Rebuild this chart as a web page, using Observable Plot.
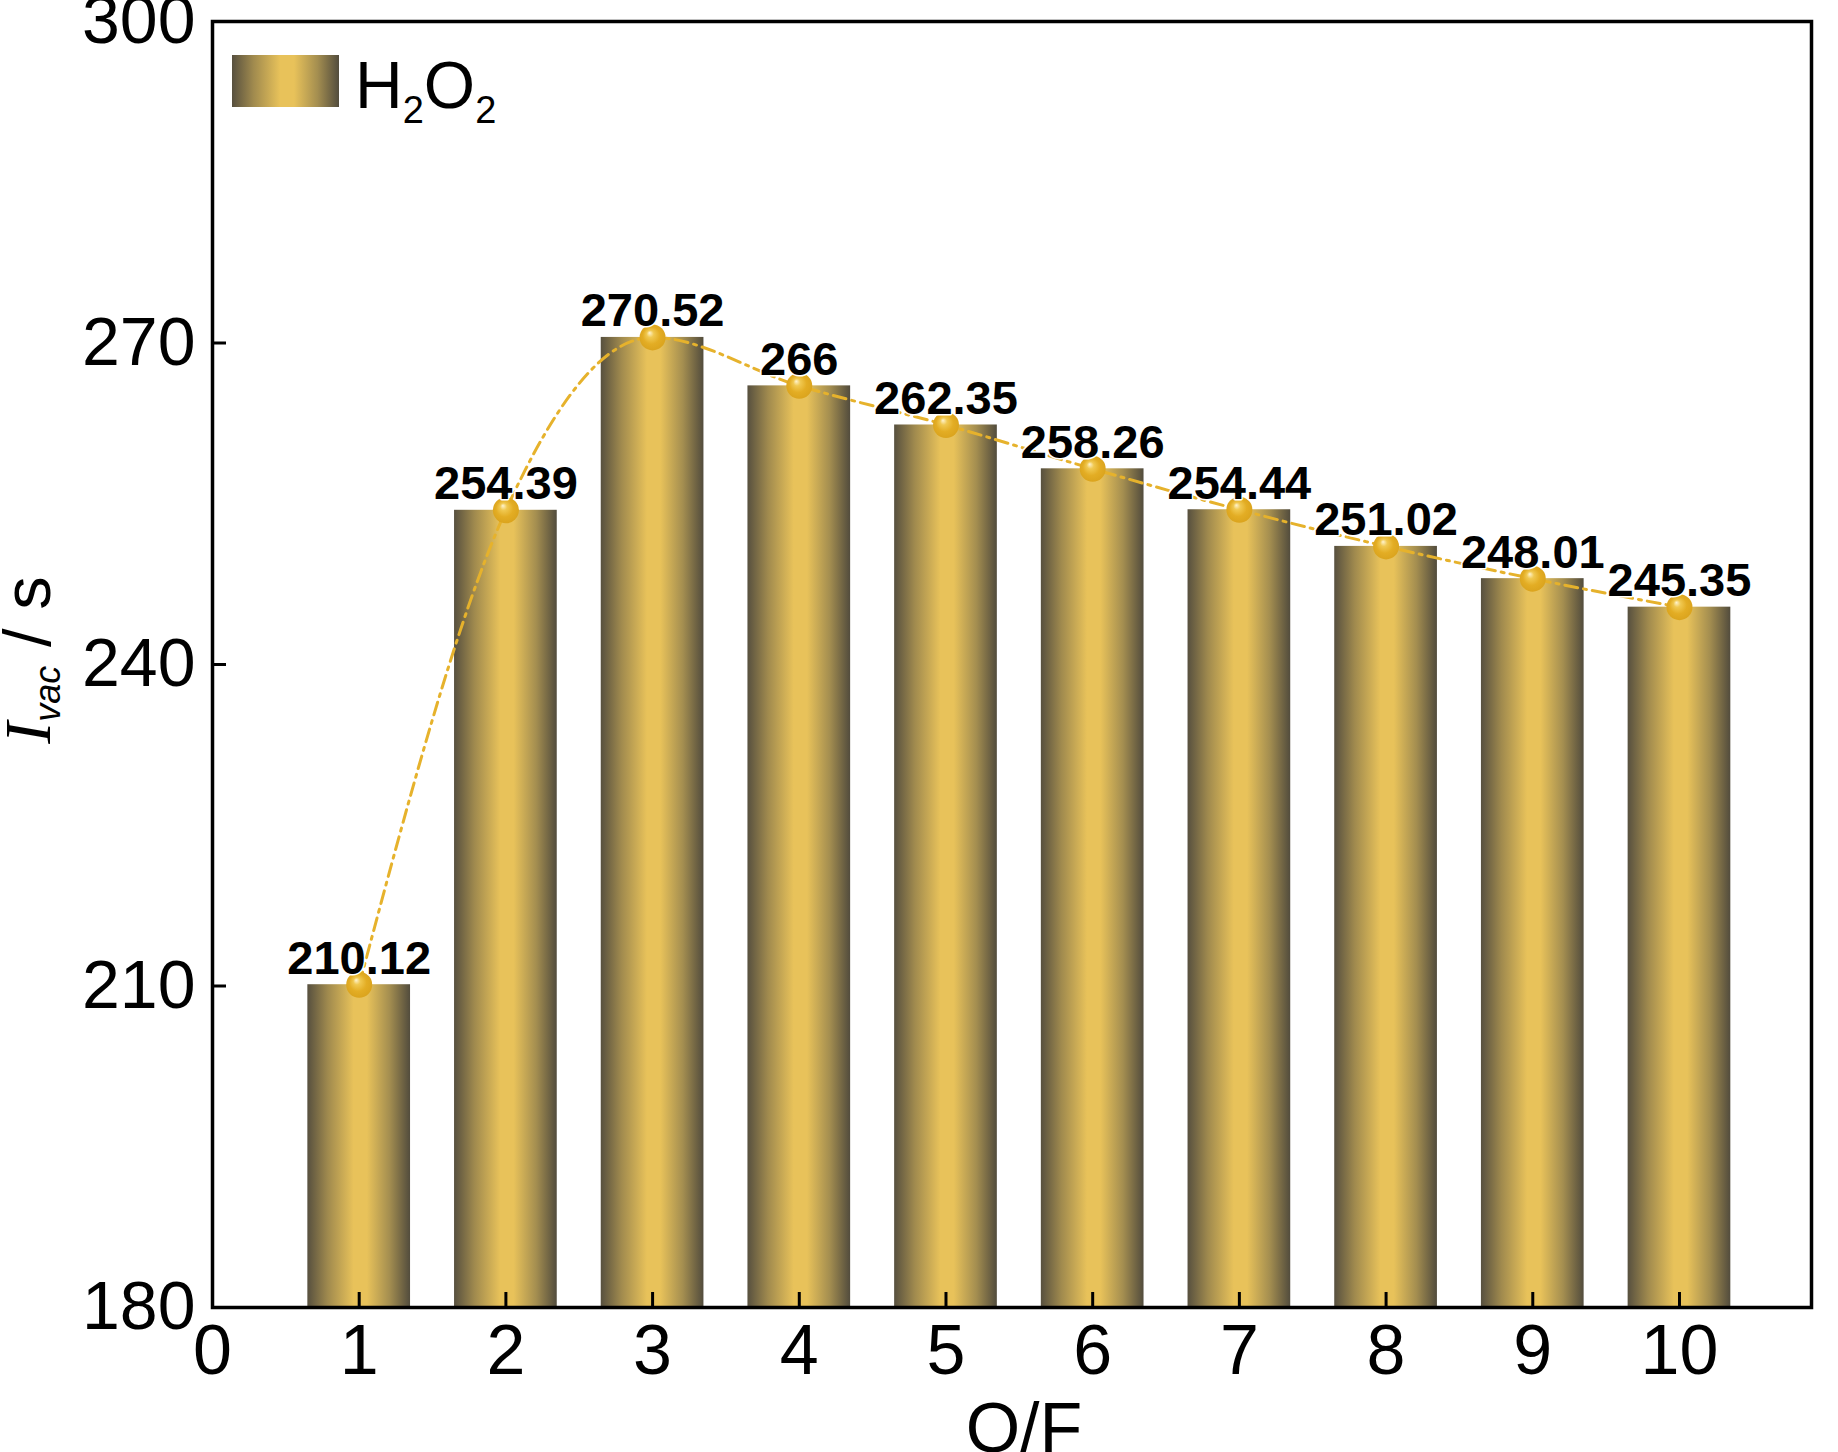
<!DOCTYPE html>
<html>
<head>
<meta charset="utf-8">
<script src="https://cdn.jsdelivr.net/npm/d3@7"></script>
<script src="https://cdn.jsdelivr.net/npm/@observablehq/plot@0.6"></script>
<style>
  html, body { margin: 0; padding: 0; background: #fff; }
  #chart svg { display: block; }
</style>
</head>
<body>
<div id="chart"></div>
<script>
// ---- data ----
const ofRatio = [1, 2, 3, 4, 5, 6, 7, 8, 9, 10];
const ivac = [210.12, 254.39, 270.52, 266, 262.35, 258.26, 254.44, 251.02, 248.01, 245.35];
const valueLabels = ["210.12", "254.39", "270.52", "266", "262.35", "258.26", "254.44", "251.02", "248.01", "245.35"];
const xTickLabels = [0, 1, 2, 3, 4, 5, 6, 7, 8, 9, 10];
const yTickLabels = [180, 210, 240, 270, 300];
const xDomain = [0, 10.9];
const yDomain = [180, 300];
const barHalfWidth = 0.35;

const data = ofRatio.map((x, i) => ({x, v: ivac[i], label: valueLabels[i]}));

// ---- layout ----
const W = 1838, H = 1452;
const mL = 212, mR = 27, mT = 21, mB = 145;
const plotW = W - mL - mR, plotH = H - mT - mB;

const chart = Plot.plot({
  width: W,
  height: H,
  marginLeft: mL,
  marginRight: mR,
  marginTop: mT,
  marginBottom: mB,
  style: {fontFamily: "'Liberation Sans', Arial, sans-serif", background: "#fff", color: "#000"},
  x: {domain: xDomain},
  y: {domain: yDomain},
  marks: [
    Plot.rect(data, {
      x1: d => d.x - barHalfWidth,
      x2: d => d.x + barHalfWidth,
      y1: () => yDomain[0],
      y2: "v",
      fill: "url(#barGrad)"
    }),
    Plot.line(data, {
      x: "x", y: "v",
      curve: "monotone-x",
      stroke: "#e6b22c",
      strokeWidth: 3,
      strokeDasharray: "13,6,3,6"
    }),
    Plot.dot(data, {x: "x", y: "v", r: 13, fill: "url(#dotGrad)", stroke: "none"}),
    Plot.text(data, {
      x: "x", y: "v", text: "label",
      dy: -11,
      lineAnchor: "bottom",
      fontSize: 47,
      fontWeight: "bold",
      fill: "#000",
      stroke: "white",
      strokeWidth: 3
    }),
    // inward ticks
    Plot.tickY(yTickLabels, {y: d => d, stroke: "#000", strokeWidth: 3, insetRight: plotW - 14}),
    Plot.tickX(xTickLabels.slice(1), {x: d => d, stroke: "#000", strokeWidth: 3, insetTop: plotH - 15}),
    Plot.axisY(yTickLabels, {tickSize: 0, tickPadding: 17, fontSize: 68, label: null, tickFormat: d => String(d)}),
    Plot.axisX(xTickLabels, {tickSize: 0, tickPadding: 17, fontSize: 70, label: null, tickFormat: d => String(d)}),
    Plot.frame({stroke: "#000", strokeWidth: 3.5}),
    Plot.text(["O/F"], {frameAnchor: "bottom", dx: 12, dy: 95, lineAnchor: "top", fontSize: 70, fill: "#000"})
  ]
});

document.getElementById("chart").appendChild(chart);

// ---- gradients, legend, y title ----
const svg = d3.select(chart);
const defs = svg.insert("defs", ":first-child");
const bg = defs.append("linearGradient").attr("id", "barGrad")
  .attr("x1", "0").attr("x2", "1").attr("y1", "0").attr("y2", "0");
[[0, "#57503f"], [0.2, "#a08a4e"], [0.45, "#e8c25a"], [0.58, "#e8c25a"], [0.8, "#a48e50"], [1, "#524c3d"]]
  .forEach(([o, c]) => bg.append("stop").attr("offset", o).attr("stop-color", c));
const dg = defs.append("radialGradient").attr("id", "dotGrad")
  .attr("cx", "0.5").attr("cy", "0.5").attr("r", "0.55").attr("fx", "0.38").attr("fy", "0.32");
[[0, "#fff4d0"], [0.25, "#f0c850"], [0.6, "#e3ad24"], [1, "#d9a21c"]]
  .forEach(([o, c]) => dg.append("stop").attr("offset", o).attr("stop-color", c));

// legend
const lg = svg.append("g").attr("class", "legend").attr("text-anchor", "start");
lg.append("rect").attr("x", mL + 20).attr("y", mT + 34).attr("width", 107).attr("height", 52)
  .attr("fill", "url(#barGrad)");
const lt = lg.append("text").attr("x", mL + 143).attr("y", mT + 87)
  .attr("text-anchor", "start")
  .attr("font-size", 66).attr("fill", "#000")
  .attr("font-family", "'Liberation Sans', Arial, sans-serif");
lt.append("tspan").text("H");
lt.append("tspan").attr("font-size", 38).attr("dy", 15).text("2");
lt.append("tspan").attr("dy", -15).text("O");
lt.append("tspan").attr("font-size", 38).attr("dy", 15).text("2");

// y-axis title
const yt = svg.append("text")
  .attr("transform", `translate(50, ${mT + plotH / 2 - 4}) rotate(-90)`)
  .attr("text-anchor", "middle")
  .attr("fill", "#000")
  .attr("font-family", "'Liberation Sans', Arial, sans-serif")
  .attr("font-size", 67);
yt.append("tspan").attr("font-family", "'Liberation Serif', 'Times New Roman', serif")
  .attr("font-style", "italic").attr("font-size", 66).text("I");
yt.append("tspan").attr("font-style", "italic").attr("font-size", 36).attr("dy", 10).text("vac");
yt.append("tspan").attr("dy", -10).text(" / s");
</script>
</body>
</html>
